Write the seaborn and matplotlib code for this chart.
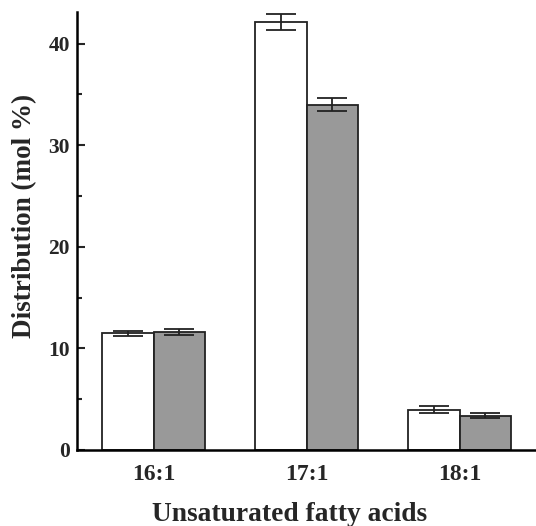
import numpy as np
import pandas as pd
import matplotlib
matplotlib.use('Agg')
import matplotlib.pyplot as plt
import seaborn as sns
from matplotlib.ticker import MultipleLocator

# datos
acidos = ['16:1', '17:1', '18:1']
grupos = ['A', 'B']
valores_a = [11.5, 42.1, 3.95]
valores_b = [11.65, 34.0, 3.38]
error_a = [0.25, 0.8, 0.35]
error_b = [0.3, 0.65, 0.28]

df = pd.DataFrame({
    'acido': acidos * 2,
    'grupo': ['A'] * 3 + ['B'] * 3,
    'valor': valores_a + valores_b,
})

sns.set_style('ticks')
plt.rcParams['font.family'] = ['Liberation Serif', 'DejaVu Serif']
plt.rcParams['font.weight'] = 'bold'

fig = plt.figure(figsize=(5.36, 5.26), dpi=100)
ax = fig.add_axes([0.1437, 0.1445, 0.8563, 0.8325])

sns.barplot(data=df, x='acido', y='valor', hue='grupo', order=acidos,
            hue_order=grupos, palette=['white', '#999999'], width=0.667,
            errorbar=None, edgecolor='#222222', linewidth=1.3, legend=False, ax=ax)

# barras de error
errores = error_a + error_b
for patch, val, err in zip(ax.patches, df['valor'], errores):
    xc = patch.get_x() + patch.get_width() / 2
    ax.errorbar(xc, val, yerr=err, fmt='none', ecolor='#222222',
                elinewidth=1.3, capsize=11, capthick=1.3)

ax.set_xlim(-0.5, 2.5)
ax.set_ylim(0, 43.1)
ax.yaxis.set_major_locator(MultipleLocator(10))
ax.yaxis.set_minor_locator(MultipleLocator(5))
ax.tick_params(axis='y', which='major', length=6, width=1.5, labelsize=15.5,
               direction='in', pad=5)
ax.tick_params(axis='y', which='minor', length=3.5, width=1.5, direction='in')
ax.tick_params(axis='x', length=0, labelsize=17, pad=10)
for lab in ax.get_xticklabels() + ax.get_yticklabels():
    lab.set_fontweight('bold')

for s in ['top', 'right']:
    ax.spines[s].set_visible(False)
for s in ['left', 'bottom']:
    ax.spines[s].set_linewidth(1.8)
    ax.spines[s].set_color('black')

ax.set_xlabel('Unsaturated fatty acids', fontsize=19.8, fontweight='bold',
              labelpad=12, x=0.464)
ax.set_ylabel('Distribution (mol %)', fontsize=19.5, fontweight='bold')
ax.yaxis.set_label_coords(-0.088, 0.535)

fig.savefig('out.png', dpi=100)
